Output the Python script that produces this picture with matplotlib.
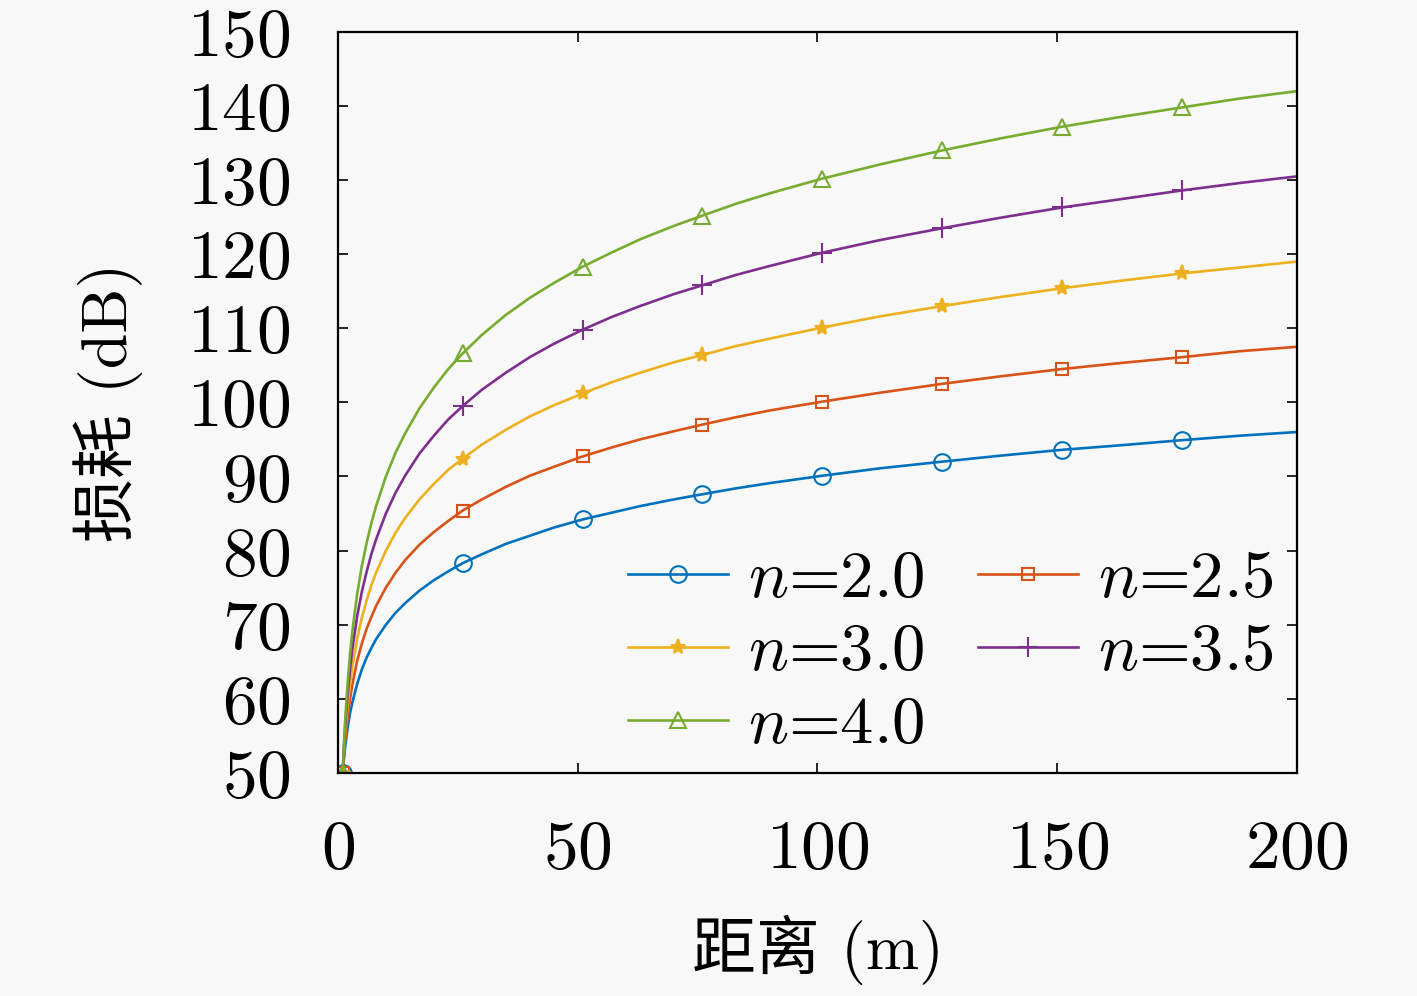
import matplotlib
matplotlib.use("Agg")
import matplotlib.pyplot as plt

# distance (m) and path loss (dB)
dist = [1, 1.25, 1.5, 2, 2.5, 3, 4, 5, 6, 7, 8, 10, 12, 14, 17, 20, 23, 26, 30, 35, 40, 45,
        51, 57, 63, 70, 76, 83, 90, 101, 113, 126, 138, 151, 163, 176, 188, 200]
loss_20 = [50, 51.9, 53.5, 56.0, 58.0, 59.5, 62.0, 64.0, 65.6, 66.9, 68.1, 70.0, 71.6, 72.9,
           74.6, 76.0, 77.2, 78.3, 79.5, 80.9, 82.0, 83.1, 84.2, 85.1, 86.0, 86.9, 87.6, 88.4,
           89.1, 90.1, 91.1, 92.0, 92.8, 93.6, 94.2, 94.9, 95.5, 96.0]
loss_25 = [50, 52.4, 54.4, 57.5, 59.9, 61.9, 65.1, 67.5, 69.5, 71.1, 72.6, 75.0, 77.0, 78.7,
           80.8, 82.5, 84.0, 85.4, 86.9, 88.6, 90.1, 91.3, 92.7, 93.9, 95.0, 96.1, 97.0, 98.0,
           98.9, 100.1, 101.3, 102.5, 103.5, 104.5, 105.3, 106.1, 106.9, 107.5]
loss_30 = [50, 52.9, 55.3, 59.0, 61.9, 64.3, 68.1, 71.0, 73.3, 75.4, 77.1, 80.0, 82.4, 84.4,
           86.9, 89.0, 90.9, 92.4, 94.3, 96.3, 98.1, 99.6, 101.2, 102.7, 104.0, 105.4, 106.4,
           107.6, 108.6, 110.1, 111.6, 113.0, 114.2, 115.4, 116.4, 117.4, 118.2, 119.0]
loss_35 = [50, 53.4, 56.2, 60.5, 63.9, 66.7, 71.1, 74.5, 77.2, 79.6, 81.6, 85.0, 87.8, 90.1,
           93.1, 95.5, 97.7, 99.5, 101.7, 104.0, 106.1, 107.9, 109.8, 111.5, 113.0, 114.6,
           115.8, 117.2, 118.4, 120.2, 121.9, 123.5, 124.9, 126.3, 127.4, 128.6, 129.6, 130.5]
loss_40 = [50, 53.9, 57.0, 62.0, 65.9, 69.1, 74.1, 78.0, 81.1, 83.8, 86.1, 90.0, 93.2, 95.8,
           99.2, 102.0, 104.5, 106.6, 109.1, 111.8, 114.1, 116.1, 118.3, 120.2, 122.0, 123.8,
           125.2, 126.8, 128.2, 130.2, 132.1, 134.0, 135.6, 137.2, 138.5, 139.8, 141.0, 142.0]
labels = ["$n$=2.0", "$n$=2.5", "$n$=3.0", "$n$=3.5", "$n$=4.0"]
marker_d = [1, 26, 51, 76, 101, 126, 151, 176]

series = [loss_20, loss_25, loss_30, loss_35, loss_40]
colors = ["#0072BD", "#D95319", "#EDB120", "#7E2F8E", "#77AC30"]
markers = ["o", "s", "*", "+", "^"]
msizes = [12, 9, 11, 14, 11]
filled = [False, False, True, False, False]

plt.rcParams["mathtext.fontset"] = "cm"
plt.rcParams["axes.formatter.use_mathtext"] = True
bg = "#f8f8f8"

fig = plt.figure(figsize=(14.17, 9.96), dpi=100, facecolor=bg)
ax = fig.add_axes([0.2385, 0.224, 0.6768, 0.744])
ax.set_facecolor(bg)

mark_idx = [dist.index(d) for d in marker_d]
handles = []
for y, c, m, ms, f, lab in zip(series, colors, markers, msizes, filled, labels):
    h, = ax.plot(dist, y, color=c, lw=1.9, marker=m, markersize=ms, markevery=mark_idx,
                 markerfacecolor=c if f else "none", markeredgecolor=c,
                 markeredgewidth=1.5, label=lab)
    handles.append(h)

ax.set_xlim(0, 200)
ax.set_ylim(50, 150)
ax.set_xticks([0, 50, 100, 150, 200])
ax.set_yticks(range(50, 151, 10))
ax.tick_params(direction="in", length=7, width=1.2, top=True, right=True)
ax.tick_params(axis="y", pad=34)
ax.tick_params(axis="x", pad=34)
for lab in ax.get_xticklabels() + ax.get_yticklabels():
    lab.set_family("cmr10")
    lab.set_fontsize(50)
for s in ax.spines.values():
    s.set_linewidth(1.6)

ax.set_xlabel("距离 (m)", family=["cmr10", "Noto Sans CJK SC"], fontsize=46, labelpad=24)
ax.set_ylabel("损耗 (dB)", family=["cmr10", "Noto Sans CJK SC"], fontsize=46, labelpad=32)

# row-major order like the reference: 2.0 2.5 / 3.0 3.5 / 4.0
order = [0, 2, 4, 1, 3]
ax.legend([handles[i] for i in order], [labels[i] for i in order], ncol=2,
          loc="lower right", bbox_to_anchor=(1.024, -0.04), frameon=False,
          prop={"family": "cmr10", "size": 48}, handlelength=1.5, handletextpad=0.3,
          columnspacing=0.8, labelspacing=0.2, borderaxespad=0.3)

fig.savefig("out.png", dpi=100, facecolor=bg)
